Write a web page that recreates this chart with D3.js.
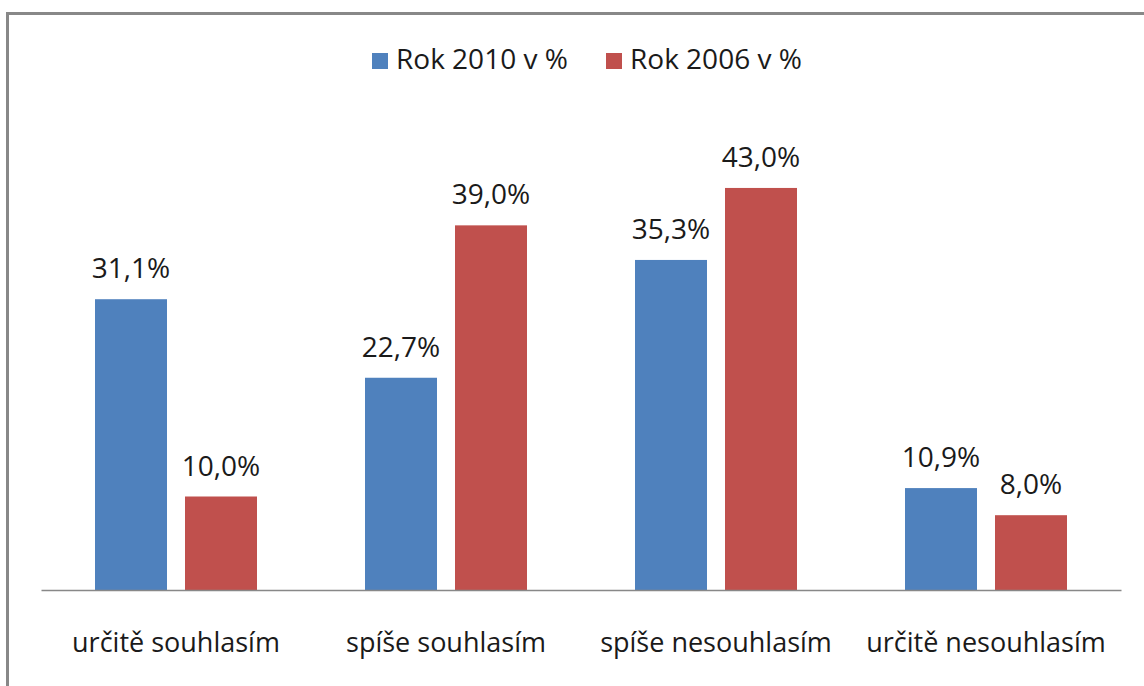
<!DOCTYPE html>
<html><head><meta charset="utf-8">
<script src="https://cdn.jsdelivr.net/npm/d3@7"></script>
<style>body{margin:0;background:#fff}svg{display:block}text{font-family:"Open Sans",sans-serif;fill:#1a1a1a}</style>
</head><body><svg id="c" width="1144" height="686"></svg>
<script>
const categories = ["určitě souhlasím","spíše souhlasím","spíše nesouhlasím","určitě nesouhlasím"];
const seriesNames = ["Rok 2010 v %","Rok 2006 v %"];
const values2010 = [31.1, 22.7, 35.3, 10.9];
const values2006 = [10.0, 39.0, 43.0, 8.0];
const colors = ["#4f81bd","#c0504d"];

const svg = d3.select("#c");
svg.append("path").attr("d","M7.5,700 V13.5 H1160").attr("fill","none").attr("stroke","#888").attr("stroke-width",3);

const x0 = d3.scaleBand().domain(categories).range([41,1121]).paddingInner(0).paddingOuter(0);
const x1 = d3.scaleBand().domain(seriesNames).range([0,x0.bandwidth()]).paddingInner(0.2).paddingOuter(0.6);
const y = d3.scaleLinear().domain([0,50]).range([590,122.5]);

const data = categories.map((c,i)=>({c, v:[values2010[i],values2006[i]]}));
const g = svg.append("g");
const groups = g.selectAll("g.cat").data(data).join("g").attr("transform",d=>`translate(${x0(d.c)},0)`);
groups.selectAll("rect").data(d=>d.v.map((v,j)=>({v,s:seriesNames[j],j}))).join("rect")
  .attr("x",d=>x1(d.s)).attr("width",x1.bandwidth())
  .attr("y",d=>y(d.v)).attr("height",d=>y(0)-y(d.v)).attr("fill",d=>colors[d.j]);
groups.selectAll("text.lab").data(d=>d.v.map((v,j)=>({v,s:seriesNames[j],j}))).join("text").attr("class","lab")
  .attr("x",d=>x1(d.s)+x1.bandwidth()/2).attr("y",d=>y(d.v)-21)
  .attr("text-anchor","middle").attr("font-size",28)
  .text(d=>d3.format(".1f")(d.v).replace(".",",")+"%");

const xAxis = d3.axisBottom(x0).tickSize(0).tickPadding(0);
const ax = svg.append("g").attr("transform","translate(0,590)").call(xAxis);
ax.select(".domain").attr("stroke","#888").attr("stroke-width",1.5);
ax.selectAll("text").attr("font-size",27).attr("dy",0).attr("y",62).style("font-family","'Open Sans',sans-serif").attr("fill","#1a1a1a");

const leg = svg.append("g");
const legX = [372, 606];
seriesNames.forEach((s,i)=>{
  leg.append("rect").attr("x",legX[i]).attr("y",53).attr("width",16).attr("height",16).attr("fill",colors[i]);
  leg.append("text").attr("x",legX[i]+24).attr("y",69).attr("font-size",28).text(s);
});
</script></body></html>
